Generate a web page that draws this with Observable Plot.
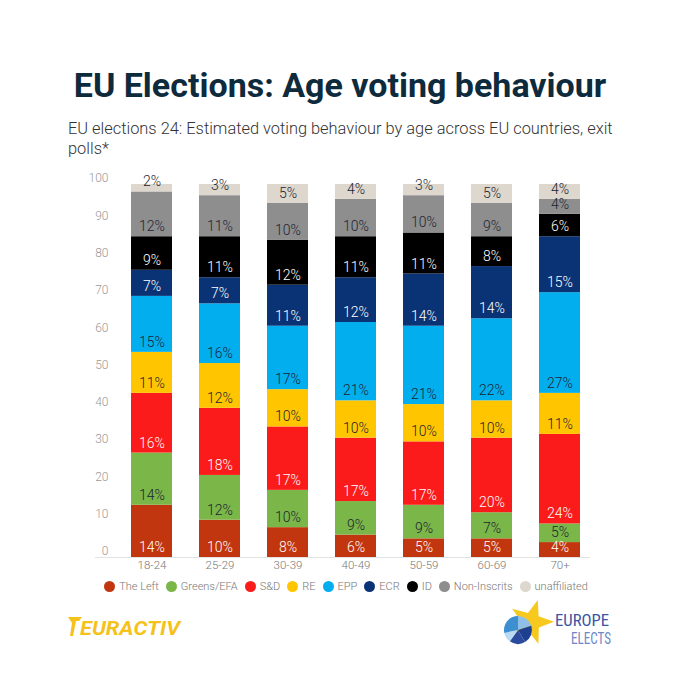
<!DOCTYPE html>
<html><head><meta charset="utf-8">
<script src="https://cdn.jsdelivr.net/npm/d3@7"></script>
<script src="https://cdn.jsdelivr.net/npm/@observablehq/plot@0.6"></script>
<style>
body{margin:0;background:#fff;font-family:Roboto,"Open Sans",sans-serif;}
#wrap{position:relative;width:680px;height:680px;overflow:hidden;background:#fff;}
#title{position:absolute;left:0;width:680px;top:68px;text-align:center;font-size:34px;font-weight:700;line-height:34px;color:#0e2a3d;white-space:nowrap;}
#sub{position:absolute;left:68px;top:119px;font-size:16.4px;line-height:20px;color:#333;font-weight:300;white-space:nowrap;}
#chart{position:absolute;left:0;top:165px;}
#legend{position:absolute;left:0;width:680px;top:578px;height:16px;display:flex;justify-content:center;align-items:center;font-size:11px;color:#777;font-weight:300;padding-left:12px;box-sizing:border-box;}
#legend .it{display:flex;align-items:center;margin:0 3.5px;}
#legend .dot{width:11px;height:11px;border-radius:50%;margin-right:4px;}
#logos{position:absolute;left:0;top:600px;}
</style></head>
<body><div id="wrap">
<div id="title">EU Elections: Age voting behaviour</div>
<div id="sub">EU elections 24: Estimated voting behaviour by age across EU countries, exit<br>polls*</div>
<div id="chart"></div>
<div id="legend"></div>
<svg id="logos" width="680" height="70" font-family="Roboto, sans-serif">
  <g transform="translate(0,-600)">
    <path d="M68,617 L82,617 L79,621 L76,621 L73,636 L70,636 L72,623 Z" fill="#f5c21b"/>
    <text x="80" y="635" font-size="20" font-weight="700" font-style="italic" fill="#f5c21b" textLength="100" lengthAdjust="spacingAndGlyphs">EURACTIV</text>
    <path id="star" fill="#f7c81e"/>
    <g transform="translate(518,630)">
      <path d="M0,0 L0,-14 A14,14 0 0 1 13.3,-4.3 Z" fill="#8fc1e8"/>
      <path d="M0,0 L13.3,-4.3 A14,14 0 0 1 7,12.1 Z" fill="#1f3f8f"/>
      <path d="M0,0 L7,12.1 A14,14 0 0 1 -8.2,11.3 Z" fill="#2a4aa0"/>
      <path d="M0,0 L-8.2,11.3 A14,14 0 0 1 -13.7,2.9 Z" fill="#b9daf3"/>
      <path d="M0,0 L-13.7,2.9 A14,14 0 0 1 0,-14 Z" fill="#3d8fcf"/>
    </g>
    <text x="555" y="626" font-size="16" fill="#3b55a3" textLength="54" lengthAdjust="spacingAndGlyphs" font-family="'Liberation Sans Narrow','Roboto Condensed',Roboto,sans-serif">EUROPE</text>
    <text x="571" y="644" font-size="16" fill="#6d88c7" textLength="40" lengthAdjust="spacingAndGlyphs" font-family="'Liberation Sans Narrow','Roboto Condensed',Roboto,sans-serif">ELECTS</text>
  </g>
</svg>
</div>
<script>
const ages = ["18-24","25-29","30-39","40-49","50-59","60-69","70+"];
const parties = ["The Left","Greens/EFA","S&D","RE","EPP","ECR","ID","Non-Inscrits","unaffiliated"];
const partyColors = ["#c2360f","#7bb649","#fb1b1b","#ffc600","#03aeef","#0a3376","#000000","#8e8e8e","#ddd7cd"];
const whiteLabelParties = ["The Left","S&D","ECR","ID"];
const yTicks = [0,10,20,30,40,50,60,70,80,90,100];

const theLeft     = [14,10, 8, 6, 5, 5, 4];
const greensEFA   = [14,12,10, 9, 9, 7, 5];
const sd          = [16,18,17,17,17,20,24];
const re          = [11,12,10,10,10,10,11];
const epp         = [15,16,17,21,21,22,27];
const ecr         = [ 7, 7,11,12,14,14,15];
const idGroup     = [ 9,11,12,11,11, 8, 6];
const nonInscrits = [12,11,10,10,10, 9, 4];
const unaffiliated= [ 2, 3, 5, 4, 3, 5, 4];

const series = [theLeft,greensEFA,sd,re,epp,ecr,idGroup,nonInscrits,unaffiliated];
const rows = [];
parties.forEach((p,i)=>ages.forEach((a,j)=>rows.push({age:a,party:p,value:series[i][j]})));

// star path for logo
(function(){
  const cx=531,cy=622,R=23,r=9.5;let d="";
  for(let k=0;k<10;k++){const ang=-Math.PI/2+k*Math.PI/5+0.3;const rad=k%2?r:R;d+=(k?"L":"M")+(cx+rad*Math.cos(ang)).toFixed(1)+","+(cy+rad*Math.sin(ang)).toFixed(1);}
  document.getElementById("star").setAttribute("d",d+"Z");
})();

const chart = Plot.plot({
  width:680, height:414,
  marginTop:19, marginBottom:22, marginLeft:95, marginRight:90,
  style:{fontFamily:"Roboto, sans-serif", background:"transparent"},
  x:{domain:ages, paddingInner:0.39, paddingOuter:0.3, align:0.8, axis:null},
  y:{domain:[0,100], axis:null},
  color:{domain:parties, range:partyColors},
  marks:[
    Plot.ruleY([0],{stroke:"#e2e2e2"}),
    Plot.barY(rows,{x:"age", y:"value", fill:"party", order:parties}),
    Plot.text(rows, Plot.stackY1({x:"age", y:"value", z:"party", order:parties,
      text:d=>whiteLabelParties.includes(d.party)? d.value+"%" : "", fill:"#ffffff", fontSize:14, fontWeight:300, dy:-10})),
    Plot.text(rows, Plot.stackY1({x:"age", y:"value", z:"party", order:parties,
      text:d=>whiteLabelParties.includes(d.party)? "" : d.value+"%", fill:"#1c2433", fontSize:14, fontWeight:300, dy:-10})),
    Plot.text(yTicks,{y:d=>d, text:d=>String(d), frameAnchor:"left", textAnchor:"end", dx:13, dy:-6, fill:"#999", fontSize:12, fontWeight:300}),
    Plot.text(ages,{x:d=>d, text:d=>d, frameAnchor:"bottom", lineAnchor:"top", dy:3, fill:"#777", fontSize:11.5, fontWeight:300})
  ]
});
document.getElementById("chart").appendChild(chart);

const leg = document.getElementById("legend");
parties.forEach((p,i)=>{
  const it=document.createElement("div");it.className="it";
  const dot=document.createElement("span");dot.className="dot";dot.style.background=partyColors[i];
  const t=document.createElement("span");t.textContent=p;
  it.appendChild(dot);it.appendChild(t);leg.appendChild(it);
});
</script>
</body></html>
